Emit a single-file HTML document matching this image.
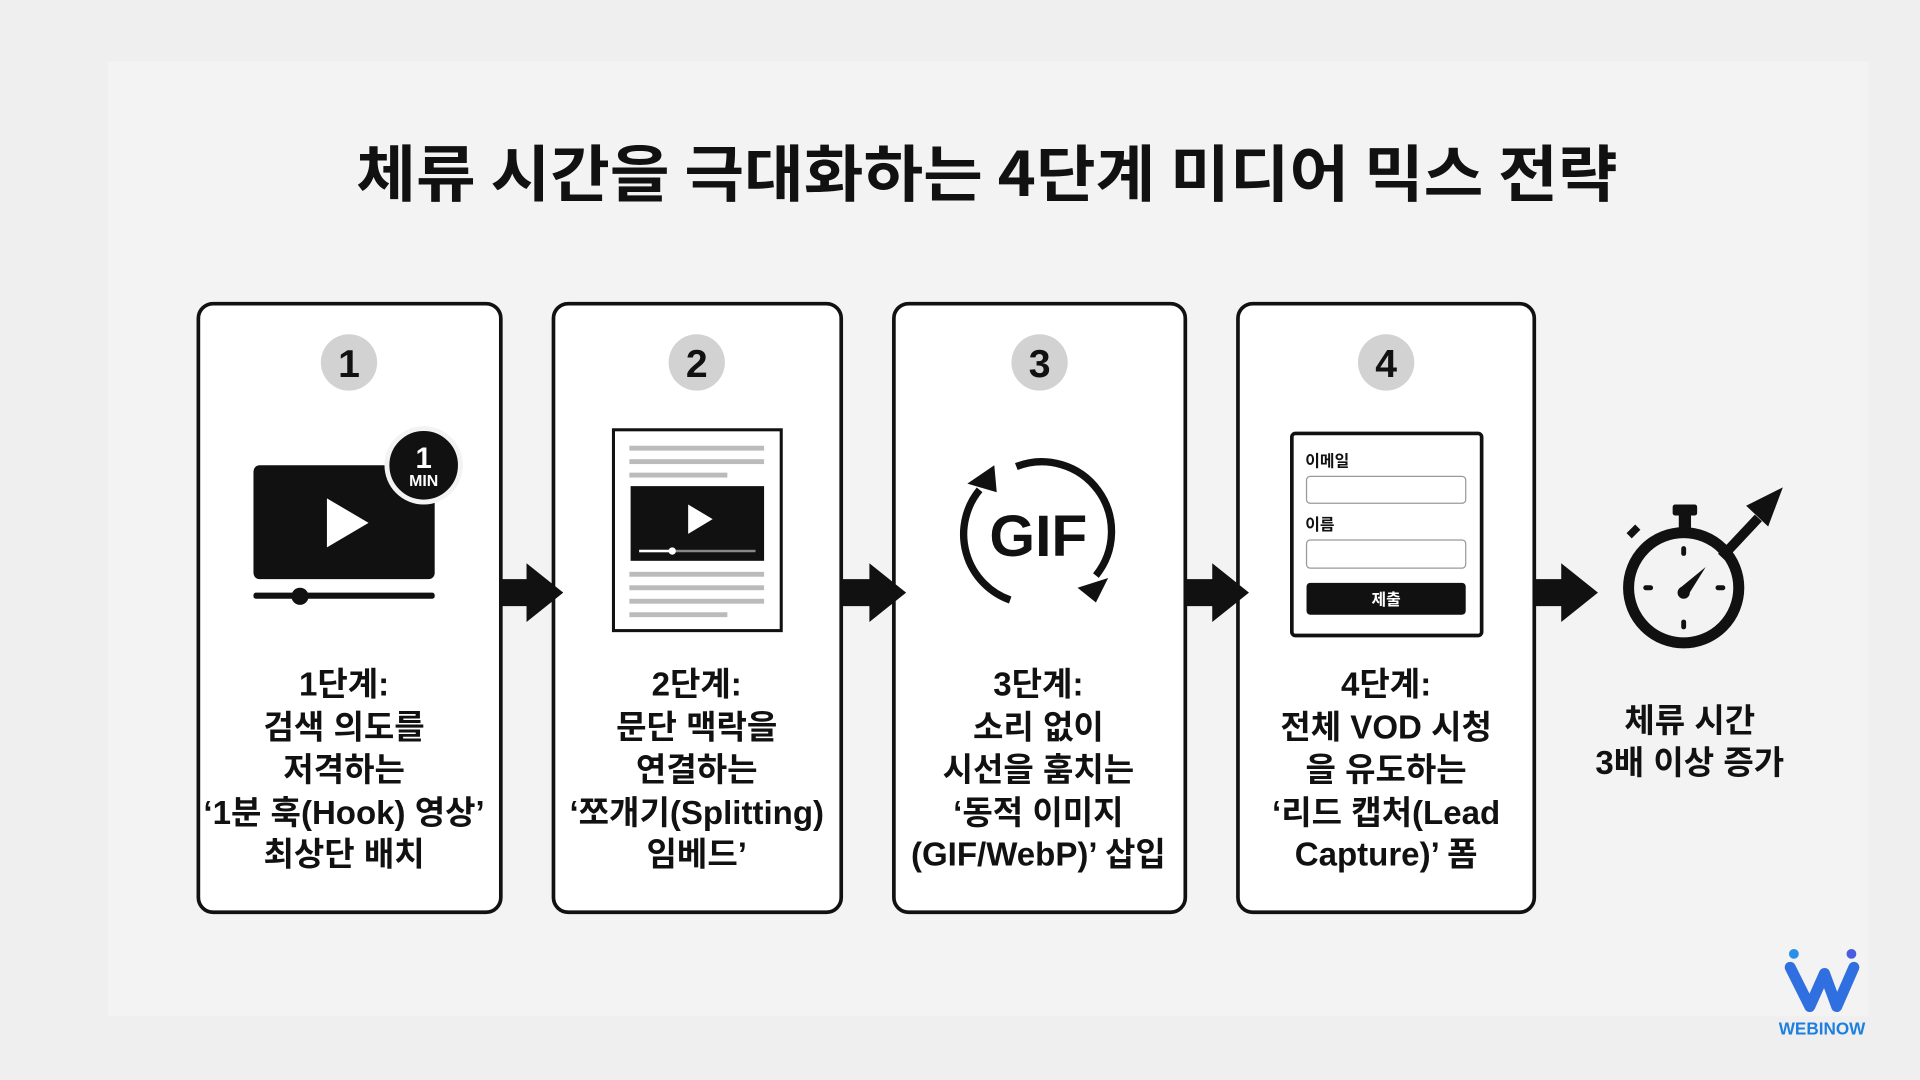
<!DOCTYPE html>
<html><head><meta charset="utf-8"><style>
html,body{margin:0;padding:0;background:#efefef;}
svg{display:block}
text{font-family:"Liberation Sans","Noto Sans CJK KR",sans-serif;font-weight:700;fill:#111;}
</style></head><body>
<svg width="1920" height="1080" viewBox="0 0 1568 882" xmlns="http://www.w3.org/2000/svg">
<rect width="1568" height="882" fill="#efefef"/>
<rect x="88" y="50" width="1438" height="780" fill="#f3f3f3"/>
<text x="806" y="160" text-anchor="middle" font-size="50" style="font-family:'Noto Sans CJK KR',sans-serif" textLength="1030" lengthAdjust="spacingAndGlyphs">체류 시간을 극대화하는 4단계 미디어 믹스 전략</text>

<g fill="#fff" stroke="#111" stroke-width="3">
<rect x="162" y="248" width="247" height="497" rx="12"/>
<rect x="452" y="248" width="235" height="497" rx="12"/>
<rect x="730" y="248" width="238" height="497" rx="12"/>
<rect x="1011" y="248" width="242" height="497" rx="12"/>
</g>

<g fill="#d2d2d2">
<circle cx="285" cy="296" r="23"/><circle cx="569" cy="296" r="23"/><circle cx="849" cy="296" r="23"/><circle cx="1132" cy="296" r="23"/>
</g>
<g font-size="32" text-anchor="middle">
<text x="285" y="308">1</text><text x="569" y="308">2</text><text x="849" y="308">3</text><text x="1132" y="308">4</text>
</g>

<g fill="#111">
<path d="M409 473 H430 V460 L460 484 L430 508 V495 H409 Z"/>
<path d="M687 473 H710 V460 L740 484 L710 508 V495 H687 Z"/>
<path d="M968 473 H990 V460 L1020 484 L990 508 V495 H968 Z"/>
<path d="M1253 473 H1275 V460 L1305 484 L1275 508 V495 H1253 Z"/>
</g>

<rect x="207" y="380" width="148" height="93" rx="5" fill="#111"/>
<path d="M267 407 L301 427 L267 447 Z" fill="#fff"/>
<rect x="207" y="484" width="148" height="5" rx="2" fill="#111"/>
<circle cx="245" cy="487" r="7" fill="#111"/>
<circle cx="346" cy="380" r="30" fill="#111" stroke="#f3f3f3" stroke-width="4"/>
<text x="346" y="382" text-anchor="middle" font-size="24" style="fill:#fff">1</text>
<text x="346" y="397" text-anchor="middle" font-size="13" style="fill:#fff">MIN</text>

<rect x="501" y="351" width="137" height="164" fill="#fff" stroke="#111" stroke-width="2.5"/>
<g fill="#bbb">
<rect x="514" y="364" width="110" height="4"/><rect x="514" y="375" width="110" height="4"/><rect x="514" y="386" width="80" height="4"/>
<rect x="514" y="467" width="110" height="4"/><rect x="514" y="478" width="110" height="4"/><rect x="514" y="489" width="110" height="4"/><rect x="514" y="500" width="80" height="4"/>
</g>
<rect x="515" y="397" width="109" height="61" fill="#111"/>
<path d="M562 412 L582 424 L562 436 Z" fill="#fff"/>
<rect x="522" y="449" width="95" height="2" fill="#888"/>
<rect x="522" y="449" width="27" height="2" fill="#fff"/>
<circle cx="549" cy="450" r="3" fill="#fff"/>

<g fill="none" stroke="#111" stroke-width="6">
<path d="M800 400 A57 57 0 0 0 825 490"/>
<path d="M830 381 A57 57 0 0 1 895 470"/>
</g>
<path d="M790 395 L812 380 L814 402 Z" fill="#111"/>
<path d="M880 480 L905 472 L895 492 Z" fill="#111"/>
<text x="848" y="454" text-anchor="middle" font-size="48" textLength="80" lengthAdjust="spacingAndGlyphs">GIF</text>

<rect x="1055" y="354" width="155" height="165" rx="3" fill="#fff" stroke="#111" stroke-width="3"/>
<text x="1066" y="381" font-size="13">이메일</text>
<rect x="1067" y="389" width="130" height="22" rx="3" fill="#fff" stroke="#999" stroke-width="1"/>
<text x="1066" y="433" font-size="13">이름</text>
<rect x="1067" y="441" width="130" height="23" rx="3" fill="#fff" stroke="#999" stroke-width="1"/>
<rect x="1067" y="476" width="130" height="26" rx="3" fill="#111"/>
<text x="1132" y="494" text-anchor="middle" font-size="13" style="fill:#fff">제출</text>

<g fill="#111">
<path d="M1406 455 L1436 423" stroke="#111" stroke-width="8" fill="none"/>
<path d="M1426 413 L1456 398 L1444 430 Z"/>
<circle cx="1375" cy="480" r="45" fill="none" stroke="#111" stroke-width="9"/>
<rect x="1366" y="412" width="20" height="9" rx="2"/>
<rect x="1371" y="419" width="10" height="13"/>
<rect x="1329" y="431" width="10" height="6" transform="rotate(-45 1334 434)"/>
<rect x="1373" y="446" width="4" height="8" rx="2"/>
<rect x="1373" y="506" width="4" height="8" rx="2"/>
<rect x="1342" y="478" width="8" height="4" rx="2"/>
<rect x="1401" y="478" width="8" height="4" rx="2"/>
<path d="M1371 481 L1393 463 L1378 487 Z"/>
<circle cx="1375" cy="484" r="5"/>
</g>

<g font-size="27" text-anchor="middle">
<text x="281" y="568">1단계:</text>
<text x="281" y="603">검색 의도를</text>
<text x="281" y="638">저격하는</text>
<text x="281" y="673">‘1분 훅(Hook) 영상’</text>
<text x="281" y="707">최상단 배치</text>

<text x="569" y="568">2단계:</text>
<text x="569" y="603">문단 맥락을</text>
<text x="569" y="638">연결하는</text>
<text x="569" y="673">‘쪼개기(Splitting)</text>
<text x="569" y="707">임베드’</text>

<text x="848" y="568">3단계:</text>
<text x="848" y="603">소리 없이</text>
<text x="848" y="638">시선을 훔치는</text>
<text x="848" y="673">‘동적 이미지</text>
<text x="848" y="707">(GIF/WebP)’ 삽입</text>

<text x="1132" y="568">4단계:</text>
<text x="1132" y="603">전체 VOD 시청</text>
<text x="1132" y="638">을 유도하는</text>
<text x="1132" y="673">‘리드 캡처(Lead</text>
<text x="1132" y="707">Capture)’ 폼</text>

<text x="1380" y="598">체류 시간</text>
<text x="1380" y="632">3배 이상 증가</text>
</g>

<circle cx="1465" cy="779" r="4" fill="#2a8fe8"/>
<circle cx="1512" cy="779" r="4" fill="#4a5de0"/>
<path d="M1462 790 L1478 822 L1490 795 L1500 822 L1514 790" fill="none" stroke="#2f6fe0" stroke-width="9" stroke-linejoin="round" stroke-linecap="round"/>
<text x="1488" y="845" text-anchor="middle" font-size="14" style="fill:#1d7fe0">WEBINOW</text>
</svg>
</body></html>
